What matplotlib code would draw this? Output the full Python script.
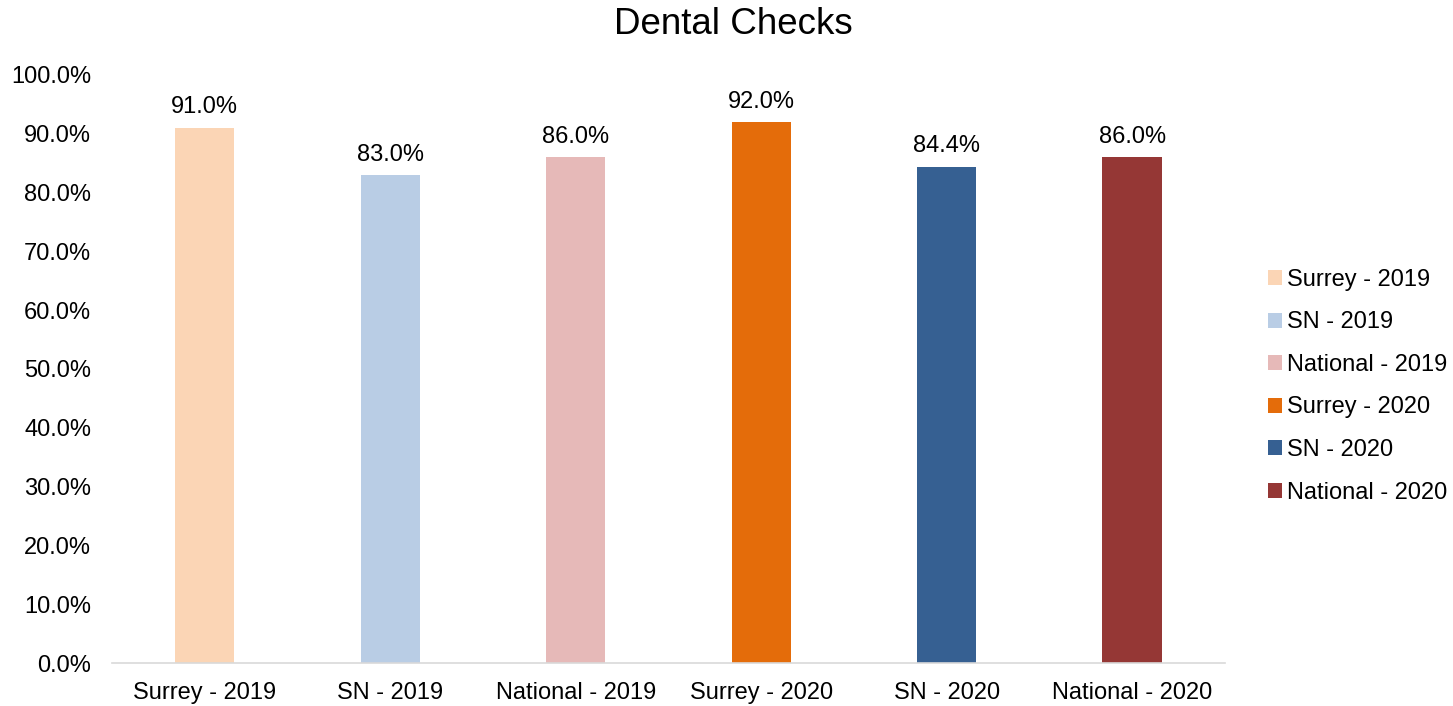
import matplotlib
matplotlib.use("Agg")
import matplotlib.pyplot as plt
from matplotlib.patches import Patch
from matplotlib.ticker import FuncFormatter

categories = ["Surrey - 2019", "SN - 2019", "National - 2019",
              "Surrey - 2020", "SN - 2020", "National - 2020"]
values = [91.0, 83.0, 86.0, 92.0, 84.4, 86.0]
colors = ["#FBD5B5", "#B9CDE5", "#E6B9B8", "#E46C0A", "#366092", "#953735"]

plt.rcParams['font.family'] = ['Liberation Sans', 'DejaVu Sans']
FS = 17

fig = plt.figure(figsize=(14.53, 7.06), dpi=100)
ax = fig.add_axes([0.0771, 0.0609, 0.7659, 0.8329])

x = list(range(len(categories)))
bars = ax.bar(x, values, width=0.32, color=colors)
for xi, v in zip(x, values):
    ax.text(xi, v + 1.6, f"{v:.1f}%", ha="center", va="bottom", fontsize=FS)

ax.set_xlim(-0.5, len(categories) - 0.5)
ax.set_ylim(0, 100)
ax.set_yticks(range(0, 101, 10))
ax.yaxis.set_major_formatter(FuncFormatter(lambda v, p: f"{v:.1f}%"))
ax.set_xticks(x)
ax.set_xticklabels(categories)
ax.tick_params(axis="both", length=0, labelsize=FS)
ax.tick_params(axis="y", pad=15)
ax.tick_params(axis="x", pad=14)
for s in ["top", "right", "left"]:
    ax.spines[s].set_visible(False)
ax.spines["bottom"].set_color("#D9D9D9")
ax.spines["bottom"].set_linewidth(1.2)

fig.text(0.505, 0.965, "Dental Checks", ha="center", va="center", fontsize=26.5)

handles = [Patch(facecolor=c, label=l) for c, l in zip(colors, categories)]
fig.legend(handles=handles, loc="center left", bbox_to_anchor=(0.8727, 0.453),
           frameon=False, fontsize=FS, handlelength=0.6, handleheight=0.6,
           handletextpad=0.2, labelspacing=0.87, borderaxespad=0, borderpad=0)

fig.savefig("out.png", dpi=100)
